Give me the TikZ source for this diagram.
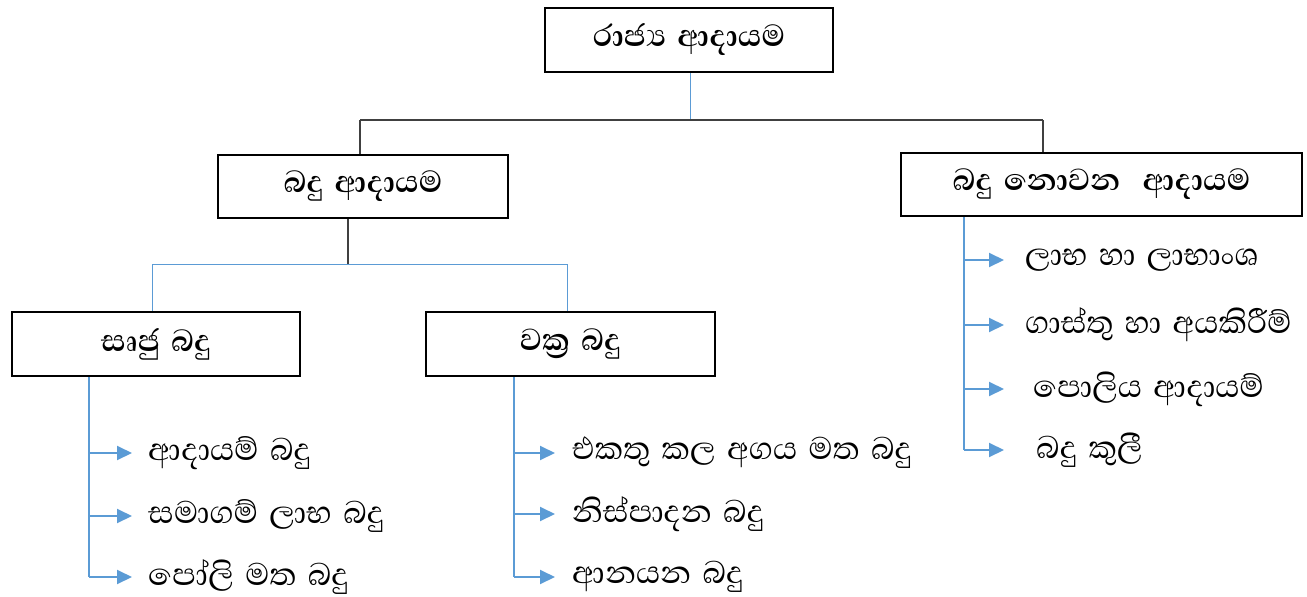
\documentclass[tikz,border=0pt]{standalone}
\usepackage{fontspec}
\newfontfamily\sinfont[Script=Sinhala,WordSpace=1.5]{Abhaya Libre}
\usetikzlibrary{arrows.meta,calc}
\definecolor{blu}{HTML}{5B9BD5}
\definecolor{dk}{HTML}{404040}
\begin{document}
\begin{tikzpicture}[x=1pt,y=-1pt,
  box/.style={draw=black, line width=2.6pt, inner sep=0pt, font=\sinfont\bfseries\fontsize{39}{43}\selectfont},
  item/.style={anchor=west, inner sep=0pt, font=\sinfont\fontsize{40}{44}\selectfont},
  bl/.style={draw=blu, line width=1pt},
  dl/.style={draw=dk, line width=1.2pt},
  trunk/.style={draw=blu, line width=2pt},
  arr/.style={draw=blu, line width=2pt, -{Triangle[length=15pt,width=14pt]}}]
\useasboundingbox (0,0) rectangle (1307,597);
% boxes
\node[box, minimum width=288pt, minimum height=64pt] (top) at (689,40) {රාජ්^^^^200dය ආදායම};
\node[box, minimum width=290pt, minimum height=63pt] (bt) at (363,186.5) {බදු ආදායම};
\node[box, minimum width=401pt, minimum height=63pt] (nbt) at (1101.5,184.5) {බදු නොවන \ ආදායම};
\node[box, minimum width=288pt, minimum height=64pt] (dir) at (156,344) {සෘජු බදු};
\node[box, minimum width=289pt, minimum height=64pt] (ind) at (570.5,344) {වක්^^^^200dර බදු};
% list items
\node[item] (l1) at (148,453) {ආදායම් බදු};
\node[item] (l2) at (148,516) {සමාගම් ලාභ බදු};
\node[item] (l3) at (148,577) {පෝලි මත බදු};
\node[item] (m1) at (572,453) {එකතු කල අගය මත බදු};
\node[item] (m2) at (572,514) {නිස්පාදන බදු};
\node[item] (m3) at (572,577) {ආනයන බදු};
\node[item] (r1) at (1025,260) {ලාභ හා ලාභාංශ};
\node[item] (r2) at (1025,325) {ගාස්තු හා අයකිරීම්};
\node[item] (r3) at (1033,389) {පොලිය ආදායම්};
\node[item] (r4) at (1036,450) {බදු කුලී};
% top connectors
\coordinate (tj) at (690,120);
\coordinate (bj) at (360,120);
\coordinate (nj) at (1043,120);
\draw[bl] (top.south -| tj) -- (tj);
\draw[dl] (bj) -- (nj);
\draw[dl] (bj) -- (bj |- bt.north);
\draw[dl] (nj) -- (nj |- nbt.north);
% second level
\coordinate (sj) at (348,264);
\coordinate (sl) at (152,264);
\coordinate (sr) at (567,264);
\draw[dl] (sj |- bt.south) -- (sj);
\draw[bl] (sl) -- (sr);
\draw[bl] (sl) -- (sl |- dir.north);
\draw[bl] (sr) -- (sr |- ind.north);
% lists
\coordinate (dt) at (89,376);
\coordinate (it) at (514,376);
\coordinate (nt) at (964,216);
\draw[trunk] (dt |- dir.south) -- (dt |- l3.west);
\draw[trunk] (it |- ind.south) -- (it |- m3.west);
\draw[trunk] (nt |- nbt.south) -- (nt |- r4.west);
\foreach \n in {l1,l2,l3}{\draw[arr] (dt |- \n.west) -- ([xshift=-16pt]\n.west);}
\foreach \n in {m1,m2,m3}{\draw[arr] (it |- \n.west) -- ([xshift=-17pt]\n.west);}
\draw[arr] (nt |- r1.west) -- (1004,260);
\draw[arr] (nt |- r2.west) -- (1004,325);
\draw[arr] (nt |- r3.west) -- (1004,389);
\draw[arr] (nt |- r4.west) -- (1004,450);
\end{tikzpicture}
\end{document}
